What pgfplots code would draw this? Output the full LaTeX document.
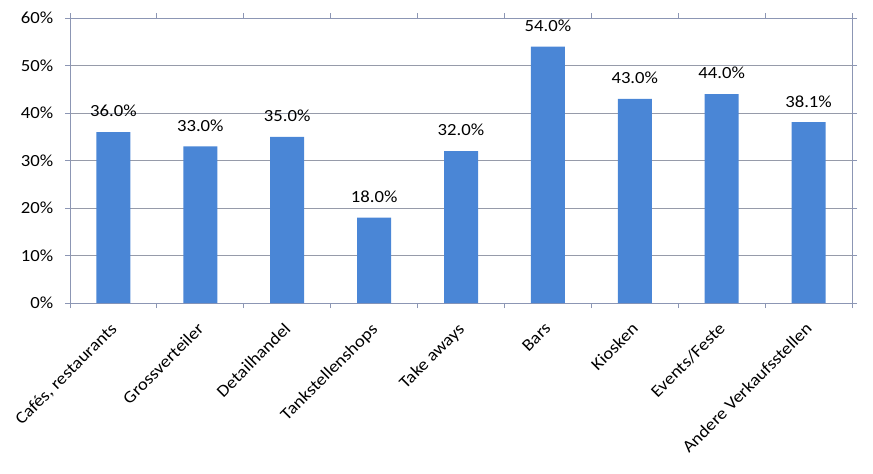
\documentclass[border=0pt]{standalone}
\usepackage{fontspec}
\setmainfont[FakeStretch=1.1]{Carlito}
\usepackage{pgfplots}
\pgfplotsset{compat=1.18}
\definecolor{barblue}{RGB}{74,134,214}
\definecolor{axgray}{RGB}{140,150,180}
\definecolor{gridgray}{RGB}{150,155,170}
\begin{document}
\fontsize{17bp}{20bp}\selectfont
\begin{tikzpicture}
\begin{axis}[
  scale only axis,
  width=782bp, height=285bp,
  at={(0,0)}, anchor=south west,
  xmin=-0.5, xmax=8.5,
  ymin=0, ymax=60,
  ytick={0,10,...,60},
  yticklabels={0\%,10\%,20\%,30\%,40\%,50\%,60\%},
  xtick={0,...,8},
  xticklabels={{Cafés, restaurants},Grossverteiler,Detailhandel,Tankstellenshops,Take aways,Bars,Kiosken,Events/Feste,Andere Verkaufsstellen},
  minor xtick={-0.5,0.5,...,8.5},
  major x tick style={draw=none},
  minor x tick style={draw=axgray, line width=0.8pt},
  y tick style={draw=axgray, line width=0.8pt},
  tick align=outside,
  major tick length=5bp,
  minor tick length=5bp,
  xticklabel style={xshift=-4bp, yshift=-12bp, rotate=45, anchor=north east, font=\fontsize{17bp}{20bp}\selectfont, inner sep=1bp},
  yticklabel style={font=\fontsize{17bp}{20bp}\selectfont, xshift=-6bp},
  ymajorgrids,
  grid style={draw=gridgray, line width=0.8pt},
  axis line style={draw=axgray, line width=0.8pt},
  ybar, bar width=34bp,
  nodes near coords={\pgfmathprintnumber[fixed,fixed zerofill,precision=1]{\pgfplotspointmeta}\%},
  nodes near coords style={font=\fontsize{17bp}{20bp}\selectfont, yshift=9bp, /pgf/number format/assume math mode=true},
  /pgf/number format/assume math mode=true,
]
\addplot[fill=barblue, draw=none] coordinates {(0,36.0) (1,33.0) (2,35.0) (3,18.0) (4,32.0) (5,54.0) (6,43.0) (7,44.0) (8,38.1)};
\end{axis}
\pgfresetboundingbox
\path[use as bounding box] (-70bp,-171bp) rectangle (803bp,303bp);
\end{tikzpicture}
\end{document}
